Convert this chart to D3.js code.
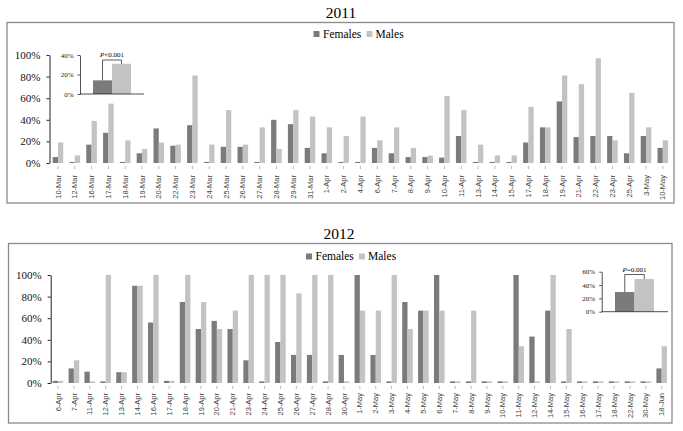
<!DOCTYPE html>
<html>
<head>
<meta charset="utf-8">
<script src="https://cdn.jsdelivr.net/npm/d3@7"></script>
<style>
  html, body { margin: 0; padding: 0; background: #fff; }
  svg { display: block; }
  text { font-family: "Liberation Serif", "Times New Roman", serif; }
  .xlab { font-family: "Liberation Sans Narrow", "Liberation Sans", Arial, sans-serif; }
</style>
</head>
<body>
<svg id="svg" width="683" height="431"></svg>
<script>
// ---- data (percent) ----
const dates2011 = ['10-Mar','12-Mar','16-Mar','17-Mar','18-Mar','19-Mar','20-Mar','22-Mar','23-Mar','24-Mar',
  '25-Mar','26-Mar','27-Mar','28-Mar','29-Mar','31-Mar','1-Apr','2-Apr','4-Apr','6-Apr','7-Apr','8-Apr','9-Apr',
  '10-Apr','11-Apr','13-Apr','14-Apr','15-Apr','17-Apr','18-Apr','19-Apr','21-Apr','22-Apr','23-Apr','25-Apr','3-May','10-May'];
const females2011 = [5.5,1,17,28,1,9,32,16,35,1, 15,15,1,40,36,14,9,1,1,14,9,5.5,5.5, 5,25,1,1,1,19,33,57,24,25,25,9,25,14];
const males2011   = [19,7,39,55,21,13,19,17,81,17, 49,17,33,13,49,43,33,25,43,21,33,14,6.8, 62,49,17,7,7,52,33,81,73,97,21,65,33,21];

const dates2012 = ['6-Apr','7-Apr','11-Apr','12-Apr','13-Apr','14-Apr','16-Apr','17-Apr','18-Apr','19-Apr','20-Apr','21-Apr',
  '23-Apr','24-Apr','25-Apr','26-Apr','27-Apr','28-Apr','30-Apr','1-May','2-May','3-May','4-May','5-May','6-May','7-May',
  '8-May','9-May','10-May','11-May','12-May','14-May','15-May','16-May','17-May','18-May','22-May','30-May','18-Jun'];
const females2012 = [2,13.5,10.5,1.5,10,90,56,2,75,50,57.5,50, 21,1.5,38,26,26,1.5,26,100,26,1.5,75,67,100,1.5,
  1.5,1.5,1.5,100,43,67,1.5,1.5,1.5,1.5,1.5,1.5,13.5];
const males2012   = [2,21,1.5,100,10,90,100,2,100,75,50,67, 100,100,100,83,100,100,1.5,67,67,100,50,67,67,1.5,
  67,1.5,1.5,34,1.5,100,50,1.5,1.5,1.5,1.5,1.5,34];

const mainTicks = [0,20,40,60,80,100];
const insetTicks2011 = [0,20,40];
const insetTicks2012 = [0,20,40,60];
const insetGroups = ['Females','Males'];
const inset2011 = [14,31];
const inset2012 = [29.5,49];

const colors = { Females: '#7b7b7b', Males: '#c3c3c3' };
const svg = d3.select('#svg');

// one year panel
function drawPanel(p) {
  const g = svg.append('g');

  g.append('rect')
    .attr('x', p.box[0]).attr('y', p.box[1])
    .attr('width', p.box[2]-p.box[0]).attr('height', p.box[3]-p.box[1])
    .attr('fill','none').attr('stroke','#8a8a8a').attr('stroke-width',1.3);

  g.append('text').attr('x', p.titleX).attr('y', p.titleY)
    .attr('text-anchor','middle').attr('font-size',15.5).text(p.title);

  // legend
  const lg = g.append('g').attr('transform',`translate(${p.legend[0]},${p.legend[1]})`);
  lg.append('rect').attr('x',0).attr('y',-6).attr('width',6).attr('height',6).attr('fill',colors.Females);
  lg.append('text').attr('x',9.5).attr('y',0.5).attr('font-size',11.5).text('Females');
  lg.append('rect').attr('x',53).attr('y',-6).attr('width',6).attr('height',6).attr('fill',colors.Males);
  lg.append('text').attr('x',62).attr('y',0.5).attr('font-size',11.5).text('Males');

  const x = d3.scaleBand().domain(p.dates).range(p.xRange)
    .paddingInner(p.padIn).paddingOuter(p.padOut);
  const x1 = d3.scaleBand().domain(insetGroups).range([0, x.bandwidth()]);
  const y = d3.scaleLinear().domain([0,100]).range(p.yRange);

  // y axis
  const ax = g.append('g').attr('transform',`translate(${p.axisX},0)`)
    .call(d3.axisLeft(y).tickValues(mainTicks).tickSize(3).tickSizeOuter(0).tickPadding(6).tickFormat(d => d + '%'));
  ax.select('.domain').attr('stroke','#222');
  ax.selectAll('line').attr('stroke','#222');
  ax.selectAll('text').attr('font-size',11).attr('fill','#111')
    .style('font-family','"Liberation Serif", serif');

  // bars
  const rows = p.dates.map((d,i) => ({date: d, Females: p.females[i], Males: p.males[i]}));
  const grp = g.append('g').selectAll('g').data(rows).join('g')
    .attr('transform', d => `translate(${x(d.date)},0)`);
  grp.selectAll('rect').data(d => insetGroups.map(k => ({k, v: d[k]}))).join('rect')
    .attr('x', d => x1(d.k)).attr('width', x1.bandwidth())
    .attr('y', d => y(d.v)).attr('height', d => y(0) - y(d.v))
    .attr('fill', d => colors[d.k]);

  // x ticks + rotated labels
  const base = y(0);
  g.append('g').selectAll('line').data(p.dates).join('line')
    .attr('x1', d => x(d) + x.bandwidth()/2).attr('x2', d => x(d) + x.bandwidth()/2)
    .attr('y1', base + 3).attr('y2', base + 6)
    .attr('stroke','#aaa').attr('stroke-width',0.8);
  g.append('g').selectAll('text').data(p.dates).join('text')
    .attr('class','xlab')
    .attr('transform', d => `translate(${x(d) + x.bandwidth()/2},${p.labelY}) rotate(-90)`)
    .attr('text-anchor','end').attr('dy','0.35em')
    .attr('font-size',7.5).attr('fill','#444').text(d => d);

  drawInset(g, p.inset);
}

function drawInset(g, s) {
  const y = d3.scaleLinear().domain([0, d3.max(s.ticks)]).range([s.y0, s.y1]);
  const x = d3.scaleBand().domain(insetGroups).range(s.bars);
  const ig = g.append('g');

  ig.selectAll('rect').data(insetGroups).join('rect')
    .attr('x', d => x(d)).attr('width', x.bandwidth())
    .attr('y', (d,i) => y(s.values[i])).attr('height', (d,i) => y(0) - y(s.values[i]))
    .attr('fill', d => colors[d]);

  const ax = ig.append('g').attr('transform',`translate(${s.axisX},0)`)
    .call(d3.axisLeft(y).tickValues(s.ticks).tickSize(2.5).tickSizeOuter(0).tickPadding(4).tickFormat(d => d + '%'));
  ax.selectAll('path,line').attr('stroke','#222').attr('stroke-width',0.8);
  ax.selectAll('text').attr('font-size',7).attr('fill','#222')
    .style('font-family','"Liberation Serif", serif');

  ig.append('line').attr('x1', s.axisX).attr('x2', s.baseEnd)
    .attr('y1', y(0)).attr('y2', y(0)).attr('stroke','#222').attr('stroke-width',0.8);

  // significance bracket
  const cf = x('Females') + x.bandwidth()/2, cm = x('Males') + x.bandwidth()/2;
  ig.append('path')
    .attr('d', `M${cf},${y(s.values[0])}V${s.bracketY}H${cm}V${y(s.values[1])}`)
    .attr('fill','none').attr('stroke','#333').attr('stroke-width',0.8);
  const t = ig.append('text').attr('x', (cf+cm)/2).attr('y', s.bracketY - 3)
    .attr('text-anchor','middle').attr('font-size',7);
  t.append('tspan').attr('font-style','italic').text('P');
  t.append('tspan').text(s.label);
}

drawPanel({
  title: '2011', titleX: 341, titleY: 18,
  box: [7, 22.5, 674, 203],
  legend: [313.5, 37],
  dates: dates2011, females: females2011, males: males2011,
  xRange: [49.5, 671.3], padIn: 0.37, padOut: 0.19,
  yRange: [163, 55], axisX: 49.5, labelY: 175,
  inset: { ticks: insetTicks2011, values: inset2011, y0: 94, y1: 55,
           axisX: 80, baseEnd: 144, bars: [93, 131], bracketY: 60, label: '<0.001' }
});

drawPanel({
  title: '2012', titleX: 339, titleY: 238.5,
  box: [8.5, 243.5, 672, 423],
  legend: [306, 259.5],
  dates: dates2012, females: females2012, males: males2012,
  xRange: [50.7, 669], padIn: 0.333, padOut: 0.126,
  yRange: [383, 275], axisX: 50.7, labelY: 393,
  inset: { ticks: insetTicks2012, values: inset2012, y0: 311.7, y1: 271.7,
           axisX: 601.7, baseEnd: 668, bars: [615, 654], bracketY: 274.5, label: '=0.001' }
});
</script>
</body>
</html>
